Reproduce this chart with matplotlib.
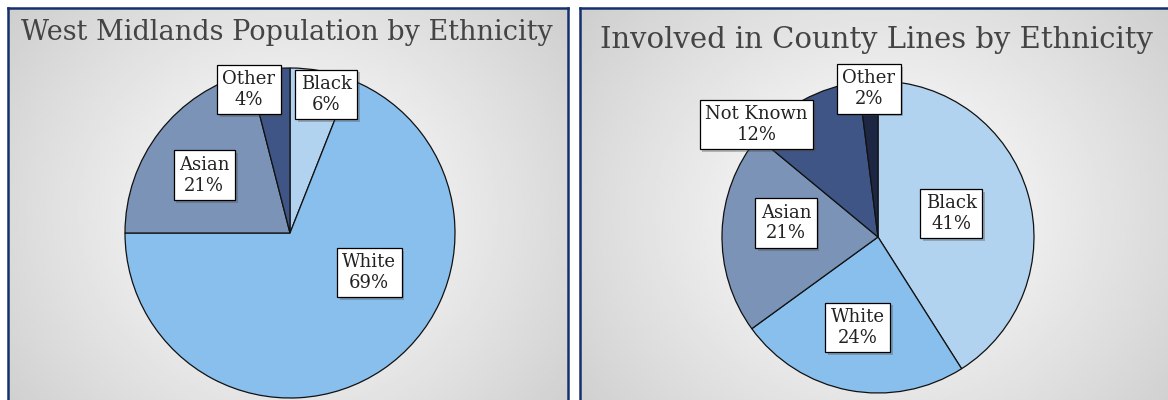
import matplotlib
matplotlib.use("Agg")
import matplotlib.pyplot as plt
import matplotlib.patheffects as pe
import numpy as np

# data
left_title = "West Midlands Population by Ethnicity"
left_labels = ["Black", "White", "Asian", "Other"]
left_values = [6, 69, 21, 4]

right_title = "Involved in County Lines by Ethnicity"
right_labels = ["Black", "White", "Asian", "Not Known", "Other"]
right_values = [41, 24, 21, 12, 2]

# colours
c_black = "#B1D3EF"
c_white = "#89BFEC"
c_asian = "#7A93B6"
c_notknown = "#3E5585"
c_other_r = "#1D2743"
left_colors = [c_black, c_white, c_asian, c_notknown]
right_colors = [c_black, c_white, c_asian, c_notknown, c_other_r]

# label box positions (in units of pie radius)
left_pos = [(0.22, 0.84), (0.48, -0.24), (-0.52, 0.35), (-0.25, 0.87)]
right_pos = [(0.47, 0.15), (-0.13, -0.58), (-0.59, 0.09), (-0.78, 0.72), (-0.06, 0.95)]

W, H = 1168, 400
fig = plt.figure(figsize=(W / 100, H / 100), dpi=100)
fig.patch.set_facecolor("white")


def panel(x0, x1, y0):
    # gradient background with navy border
    ax = fig.add_axes([x0 / W, -0.05, (x1 - x0) / W, (H - y0) / H + 0.05])
    yy, xx = np.mgrid[-1:1:200j, -1:1:200j]
    r = np.sqrt(xx ** 2 + (yy * 0.8) ** 2) / np.sqrt(1 + 0.64)
    ax.imshow(1 - 0.19 * r ** 1.1, cmap="gray", vmin=0, vmax=1,
              extent=[0, 1, 0, 1], aspect="auto", interpolation="bilinear")
    ax.set_xticks([])
    ax.set_yticks([])
    for s in ax.spines.values():
        s.set_color("#14306E")
        s.set_linewidth(1.8)


def pie(cx, cy, rad, values, colors, labels, pos, title, tx, ty, tsize):
    size = 2.2 * rad
    ax = fig.add_axes([(cx - size / 2) / W, (H - cy - size / 2) / H, size / W, size / H])
    ax.pie(values, colors=colors, startangle=90, counterclock=False,
           wedgeprops=dict(edgecolor="#111111", linewidth=0.9))
    ax.set_xlim(-1.1, 1.1)
    ax.set_ylim(-1.1, 1.1)
    ax.set_aspect("equal")
    ax.axis("off")
    for lab, v, (x, y) in zip(labels, values, pos):
        t = ax.text(x, y, f"{lab}\n{v}%", ha="center", va="center",
                    fontsize=13, family="DejaVu Serif", color="#222222",
                    linespacing=1.2,
                    bbox=dict(boxstyle="square,pad=0.3", fc="white",
                              ec="black", lw=0.9))
        t.get_bbox_patch().set_path_effects(
            [pe.SimplePatchShadow(offset=(2, -2), alpha=0.35), pe.Normal()])
    fig.text(tx / W, 1 - ty / H, title, ha="center", va="center",
             fontsize=tsize, family="DejaVu Serif", color="#444444")


panel(8, 568, 8)
panel(580, 1175, 8)

pie(290, 233, 165, left_values, left_colors, left_labels, left_pos,
    left_title, 287, 32, 19.5)
pie(878, 237, 156, right_values, right_colors, right_labels, right_pos,
    right_title, 876, 40, 21)

fig.savefig("out.png", dpi=100)
